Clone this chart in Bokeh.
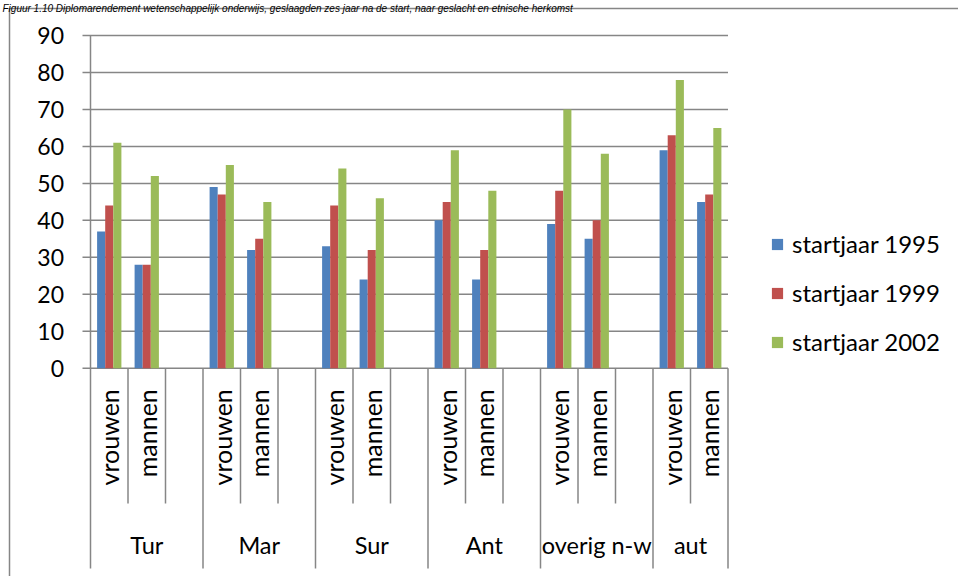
import numpy as np
from bokeh.plotting import figure
from bokeh.models import Range1d, ColumnDataSource, Legend, LegendItem
from bokeh.core.properties import value
from bokeh.embed import file_html
from bokeh.resources import INLINE

# ---------------- data ----------------
title_text = ("Figuur 1.10 Diplomarendement wetenschappelijk onderwijs, geslaagden zes jaar "
              "na de start, naar geslacht en etnische herkomst")
groups = ["Tur", "Mar", "Sur", "Ant", "overig n-w", "aut"]
sexes = ["vrouwen", "mannen"]
series_names = ["startjaar 1995", "startjaar 1999", "startjaar 2002"]
s1995 = [37, 28, 49, 32, 33, 24, 40, 24, 39, 35, 59, 45]
s1999 = [44, 28, 47, 35, 44, 32, 45, 32, 48, 40, 63, 47]
s2002 = [61, 52, 55, 45, 54, 46, 59, 48, 70, 58, 78, 65]
yticks = [0, 10, 20, 30, 40, 50, 60, 70, 80, 90]
colors = ["#4F81BD", "#C0504D", "#9BBB59"]

# ---------------- layout (pixels) ----------------
W, H = 958, 576
X0_PX = 90.0       # screen x of category axis start
SLOT_PX = 37.5     # width of one category slot
Y0_PX = 367.7      # screen y of value 0
UNIT_PX = 3.696    # pixels per value unit
FONT = "Lato"
GRID = "#868686"

def px2x(px):
    return (px - X0_PX) / SLOT_PX

def px2y(py):
    return (Y0_PX - py) / UNIT_PX

p = figure(width=W, height=H, output_backend="svg", toolbar_location=None,
           x_axis_location=None, y_axis_location=None,
           x_range=Range1d(px2x(0), px2x(W)), y_range=Range1d(px2y(H), px2y(0)),
           min_border=0, min_border_left=0, min_border_right=0,
           min_border_top=0, min_border_bottom=0)
p.outline_line_color = None
p.background_fill_color = "white"
p.border_fill_color = "white"
p.grid.visible = False

# slots: each group has its sub categories, followed by an empty slot (except last)
slot_centers = []
sub_labels = []
group_bounds = []
inner_bounds = []
pos = 0
for gi, g in enumerate(groups):
    start = pos
    for si, s in enumerate(sexes):
        slot_centers.append(pos + 0.5)
        sub_labels.append(s)
        pos += 1
        inner_bounds.append(pos)
    if gi < len(groups) - 1:
        pos += 1
        inner_bounds.append(pos)
    group_bounds.append((start, pos))
inner_bounds = [b for b in inner_bounds if b not in [gb[1] for gb in group_bounds]]
n_slots = pos
slot_centers = np.array(slot_centers)

# chart box border
p.line([px2x(9), px2x(9), px2x(W + 5)], [px2y(H + 5), px2y(8), px2y(8)],
       line_color=GRID, line_width=1.5)

# title
p.text(x=[px2x(2)], y=[px2y(7.5)], text=[title_text], text_font=value("Liberation Sans"),
       text_font_size="10px", text_font_style="italic", text_align="left",
       text_baseline="alphabetic", text_color="#000000")

# horizontal gridlines + y ticks
tick_len = 8 / SLOT_PX
p.segment(x0=[-tick_len] * len(yticks), y0=yticks, x1=[n_slots] * len(yticks), y1=yticks,
          line_color=GRID, line_width=1.5)
# y axis line
p.segment(x0=[0], y0=[yticks[0]], x1=[0], y1=[yticks[-1]], line_color=GRID, line_width=1.5)
# y tick labels
p.text(x=[0] * len(yticks), y=yticks, text=[str(t) for t in yticks], x_offset=-26.5,
       text_align="right", text_baseline="middle", text_font=value(FONT),
       text_font_size="23px", text_color="#000000")

# bars
bw = 0.216
renderers = []
for k, (vals, col) in enumerate(zip([s1995, s1999, s2002], colors)):
    src = ColumnDataSource(dict(x=slot_centers + (k - 1) * bw, top=vals))
    r = p.vbar(x="x", top="top", bottom=0, width=bw, source=src,
               fill_color=col, line_color=None)
    renderers.append(r)

# category separators
sep_short = px2y(503)
sep_long = px2y(568)
gb_x = sorted(set([b for gb in group_bounds for b in gb]))
p.segment(x0=gb_x, y0=[0] * len(gb_x), x1=gb_x, y1=[sep_long] * len(gb_x),
          line_color=GRID, line_width=1.5)
p.segment(x0=inner_bounds, y0=[0] * len(inner_bounds), x1=inner_bounds,
          y1=[sep_short] * len(inner_bounds), line_color=GRID, line_width=1.5)

# sub category labels (rotated)
p.text(x=slot_centers, y=[0] * len(slot_centers), text=sub_labels, angle=np.pi / 2,
       y_offset=21, text_align="right", text_baseline="middle", text_font=value(FONT),
       text_font_size="25px", text_color="#000000")

# group labels
gcent = [(a + b) / 2 for a, b in group_bounds]
p.text(x=gcent, y=[0] * len(gcent), text=groups, y_offset=177, text_align="center",
       text_baseline="middle", text_font=value(FONT), text_font_size="23.5px",
       text_color="#000000")

# legend
legend = Legend(items=[LegendItem(label=n, renderers=[r]) for n, r in zip(series_names, renderers)],
                location=(770, 220), glyph_width=14, glyph_height=14, label_standoff=8,
                label_height=20, spacing=20, padding=0, margin=0,
                border_line_color=None, background_fill_alpha=0,
                label_text_font=FONT, label_text_font_size="24px", label_text_color="#000000")
p.add_layout(legend)

html = file_html(p, INLINE)
open("out.html", "w").write(html)
